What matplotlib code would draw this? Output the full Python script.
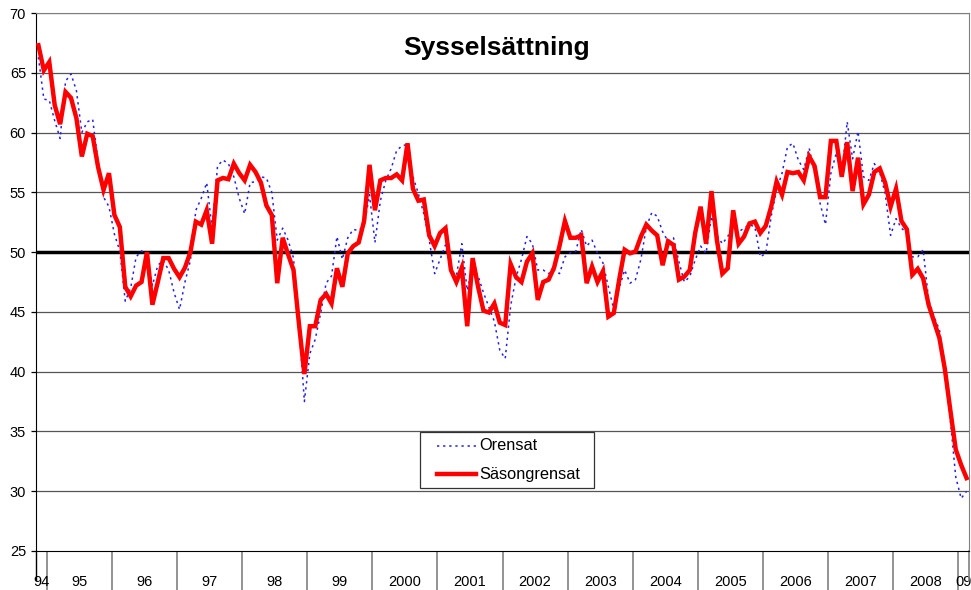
import numpy as np
import matplotlib
matplotlib.use("Agg")
import matplotlib.pyplot as plt
from matplotlib.patches import Rectangle
from matplotlib.lines import Line2D

plt.rcParams['font.family'] = ['Liberation Sans', 'DejaVu Sans']

## Monthly values, Nov 1994 - Feb 2009
orensat = [66.3, 62.8, 62.7, 61.0, 59.5, 64.3, 64.9, 63.5, 60.0, 60.9, 61.1, 57.5,
           54.6, 53.8, 51.5, 50.1, 45.9, 47.0, 49.6, 50.1, 49.8, 47.2, 48.9, 49.3,
           48.5, 46.6, 45.2, 47.5, 49.3, 53.5, 54.5, 55.8, 52.0, 57.2, 57.7, 57.4,
           56.3, 54.5, 53.2, 55.8, 55.9, 56.3, 56.2, 55.0, 51.0, 52.0, 51.0, 49.5,
           44.0, 37.5, 41.5, 42.7, 44.9, 47.4, 48.0, 51.3, 49.4, 51.2, 51.9, 51.8,
           52.2, 54.8, 50.8, 54.3, 56.0, 57.0, 58.5, 58.9, 59.0, 56.3, 54.9, 53.2,
           51.0, 48.2, 49.4, 50.6, 48.5, 48.0, 50.7, 46.8, 48.8, 48.0, 46.6, 45.4,
           44.2, 41.8, 41.1, 45.5, 47.9, 49.4, 51.3, 50.7, 48.5, 48.5, 48.2, 48.5,
           48.2, 49.6, 49.95, 50.05, 51.9, 50.5, 51.0, 49.9, 49.1, 47.1, 45.2, 47.0,
           48.5, 47.4, 47.7, 49.4, 52.1, 53.3, 53.0, 51.7, 50.9, 51.2, 49.2, 47.5,
           47.95, 49.35, 50.5, 49.9, 53.0, 51.4, 50.7, 51.3, 52.3, 51.7, 52.0, 52.3,
           52.1, 49.6, 49.9, 53.0, 55.2, 56.6, 58.8, 59.1, 57.7, 56.9, 58.7, 56.6,
           54.1, 52.3, 56.6, 58.3, 56.5, 60.9, 57.8, 60.1, 56.3, 56.0, 57.4, 56.7,
           54.9, 51.4, 52.8, 52.0, 51.6, 49.6, 49.6, 50.2, 46.0, 44.6, 43.5, 40.4,
           36.0, 31.2, 29.4, 30.0]

sasongrensat = [67.3, 65.2, 65.9, 62.3, 60.7, 63.4, 62.9, 61.2, 58.0, 59.9, 59.7, 57.1,
                55.2, 56.6, 53.1, 52.1, 47.1, 46.3, 47.2, 47.5, 50.0, 45.6, 47.5, 49.5,
                49.5, 48.6, 47.9, 48.7, 50.0, 52.55, 52.3, 53.5, 50.7, 56.0, 56.2, 56.1,
                57.4, 56.6, 56.0, 57.3, 56.7, 55.8, 53.9, 53.1, 47.4, 51.2, 49.8, 48.5,
                44.0, 39.8, 43.8, 43.8, 46.0, 46.5, 45.7, 48.65, 47.1, 49.9, 50.5, 50.8,
                52.6, 57.3, 53.5, 56.0, 56.2, 56.2, 56.5, 56.0, 59.1, 55.3, 54.3, 54.4,
                51.4, 50.5, 51.6, 52.0, 48.5, 47.5, 48.7, 43.8, 49.5, 47.1, 45.1, 44.95,
                45.7, 44.1, 43.9, 49.0, 47.9, 47.5, 49.2, 49.9, 46.0, 47.5, 47.7, 48.7,
                50.5, 52.6, 51.2, 51.2, 51.4, 47.4, 48.8, 47.5, 48.4, 44.6, 44.9, 47.7,
                50.2, 49.9, 50.05, 51.3, 52.3, 51.8, 51.4, 48.9, 50.9, 50.6, 47.7, 47.95,
                48.5, 51.6, 53.8, 50.7, 55.1, 51.0, 48.2, 48.65, 53.5, 50.7, 51.3, 52.4,
                52.55, 51.6, 52.2, 53.8, 55.9, 54.8, 56.7, 56.6, 56.7, 56.0, 58.0, 57.2,
                54.6, 54.6, 59.3, 59.3, 56.3, 59.2, 55.1, 57.9, 54.0, 54.8, 56.7, 57.0,
                55.8, 53.8, 55.3, 52.6, 51.9, 48.1, 48.6, 47.8, 45.6, 44.2, 42.8, 40.2,
                36.8, 33.5, 32.2, 31.1]

year_labels = ['94', '95', '96', '97', '98', '99', '2000', '2001', '2002', '2003',
               '2004', '2005', '2006', '2007', '2008', '09']
months_in_year = [2] + [12] * 14 + [2]

W, H = 971, 590

## Figure
fig = plt.figure(figsize=(W / 100, H / 100), dpi=100)
ax = fig.add_axes([35.7 / W, 1 - 551 / H, (969.3 - 35.7) / W, 538 / H])

n = len(sasongrensat)
x = np.arange(n)

## grid
for yv in range(30, 71, 5):
    if yv != 50:
        ax.axhline(yv, color='#555555', lw=0.9, zorder=1)
ax.axhline(50, color='k', lw=2.5, zorder=2)

blue_style = dict(color='#2323e0', lw=1.1, linestyle=(0, (1.5, 2.5)))
red_style = dict(color='#ff0000', lw=3.2, solid_joinstyle='miter')
ax.plot(x, orensat, zorder=3, **blue_style)
ax.plot(x, sasongrensat, zorder=4, **red_style)

ax.set_xlim(-0.5, n - 0.5)
ax.set_ylim(25, 70)

## y axis
ax.set_yticks(range(25, 71, 5))
ax.tick_params(axis='y', length=3.4, width=0.9, pad=3.5, labelsize=10.5, direction='out')

## x axis: year separators + centered labels
bounds = np.concatenate([[0], np.cumsum(months_in_year)]) - 0.5
centers = (bounds[:-1] + bounds[1:]) / 2
ax.set_xticks(bounds[1:-1])
ax.set_xticklabels([])
ax.tick_params(axis='x', which='major', length=28, width=1.2, color='#808080')
ax.set_xticks(centers, minor=True)
ax.set_xticklabels(year_labels, minor=True, fontsize=10.5)
ax.tick_params(axis='x', which='minor', length=0, pad=17)

ax.spines['left'].set_color('k')
ax.spines['bottom'].set_color('k')
ax.spines['top'].set_color('#808080')
ax.spines['right'].set_color('#808080')

## left / right edges continue down under the axis
ax.plot([-0.5, -0.5], [25, 22.6], color='k', lw=1, clip_on=False)
ax.plot([n - 0.5, n - 0.5], [25, 22.6], color='#808080', lw=1.2, clip_on=False)

ax.text(0.494, 0.935, 'Sysselsättning', transform=ax.transAxes, ha='center', va='center',
        fontsize=19, fontweight='bold')

## legend box (drawn by hand to match Excel spacing)
fig.add_artist(Rectangle((420 / W, 1 - 488 / H), 174 / W, 56 / H, transform=fig.transFigure,
                         facecolor='white', edgecolor='#333333', lw=0.9, zorder=10))
for row_y, style, name in [(446, blue_style, 'Orensat'), (474, red_style, 'Säsongrensat')]:
    yy = 1 - row_y / H
    fig.add_artist(Line2D([437 / W, 476 / W], [yy, yy], transform=fig.transFigure,
                          zorder=11, **style))
    fig.text(479 / W, yy, name, ha='left', va='center', fontsize=11.8, zorder=12)

fig.savefig('out.png', dpi=100)
